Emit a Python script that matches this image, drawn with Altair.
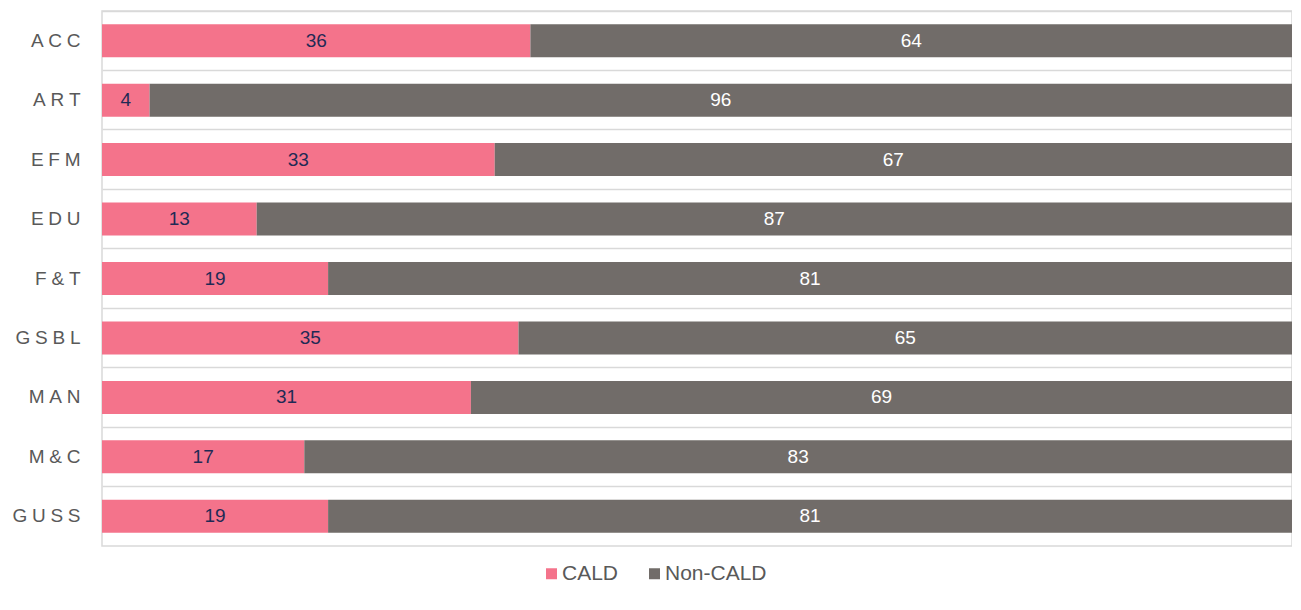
import altair as alt
import pandas as pd

categories = ["ACC", "ART", "EFM", "EDU", "F&T", "GSBL", "MAN", "M&C", "GUSS"]
cald = [36, 4, 33, 13, 19, 35, 31, 17, 19]
non_cald = [64, 96, 67, 87, 81, 65, 69, 83, 81]
series = ["CALD", "Non-CALD"]
colors = ["#F4738B", "#716C69"]
label_colors = ["#1F2A55", "#FFFFFF"]

rows = []
for c, a, b in zip(categories, cald, non_cald):
    rows.append({"cat": c, "series": "CALD", "order": 0, "value": a})
    rows.append({"cat": c, "series": "Non-CALD", "order": 1, "value": b})
df = pd.DataFrame(rows)

base = alt.Chart(df).transform_stack(
    stack="value", groupby=["cat"], as_=["x0", "x1"],
    sort=[alt.SortField("order", order="ascending")]
).transform_calculate(mid="(datum.x0 + datum.x1) / 2")

yenc = alt.Y("cat:N", sort=categories,
             scale=alt.Scale(paddingInner=0, paddingOuter=0),
             axis=alt.Axis(title=None, ticks=False, domain=False, grid=True,
                           bandPosition=0, gridColor="#D9D9D9", gridWidth=1.5,
                           labelFont="Liberation Sans", labelFontSize=19,
                           labelColor="#595959", labelPadding=22,
                           labelExpr="join(split(datum.label, ''), '\u2005')"))

xscale = alt.Scale(domain=[0, 100], nice=False, zero=True)

bars = base.mark_bar(height=alt.RelativeBandSize(0.555)).encode(
    y=yenc,
    x=alt.X("x0:Q", scale=xscale, axis=None),
    x2="x1:Q",
    color=alt.Color("series:N", scale=alt.Scale(domain=series, range=colors),
                    legend=alt.Legend(title=None, orient="none", legendX=439, legendY=552,
                                      direction="horizontal", symbolType="square",
                                      symbolSize=121, symbolStrokeWidth=0,
                                      labelFont="Liberation Sans", labelFontSize=21,
                                      labelColor="#595959", columnPadding=25,
                                      labelOffset=0, padding=0)),
)

texts = base.mark_text(font="Liberation Sans", fontSize=19, baseline="middle").encode(
    y=alt.Y("cat:N", sort=categories),
    x=alt.X("mid:Q", scale=xscale),
    text=alt.Text("value:Q"),
    color=alt.Color("series:N", scale=alt.Scale(domain=series, range=label_colors), legend=None),
)

chart = alt.layer(bars, texts).resolve_scale(color="independent").properties(
    width=1190, height=535,
    autosize=alt.AutoSizeParams(type="none"),
    padding={"left": 94, "top": 3, "right": 0, "bottom": 60},
).configure_view(stroke="#D9D9D9", strokeWidth=1.5)

chart.save("out.html", embed_options={"renderer": "svg", "actions": False})
